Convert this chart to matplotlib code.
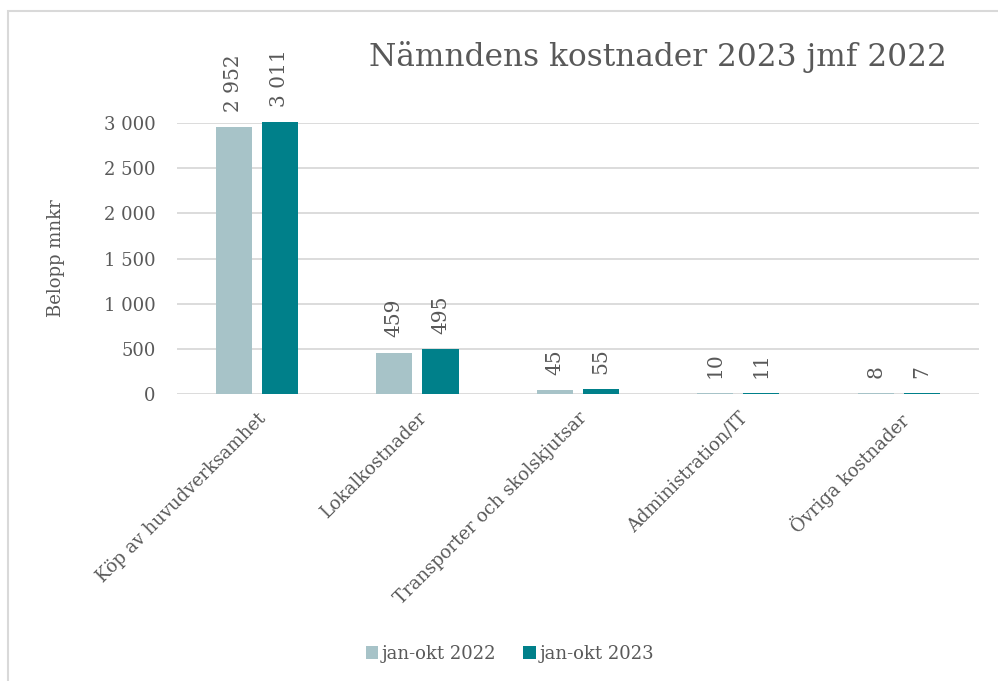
import matplotlib.pyplot as plt
from matplotlib.patches import Rectangle
import numpy as np

# data
kategorier = ['Köp av huvudverksamhet', 'Lokalkostnader', 'Transporter och skolskjutsar',
              'Administration/IT', 'Övriga kostnader']
jan_okt_2022 = [2952, 459, 45, 10, 8]
jan_okt_2023 = [3011, 495, 55, 11, 7]
serier = ['jan-okt 2022', 'jan-okt 2023']

ljus = '#a7c3c8'
teal = '#00808a'
grå_text = '#595959'
grid_färg = '#d9d9d9'

plt.rcParams['font.family'] = ['DejaVu Serif']

def tusental(v):
    return f'{int(v):,}'.replace(',', ' ')

fig = plt.figure(figsize=(9.98, 6.81), dpi=100)
ax = fig.add_axes([0.177, 0.4214, 0.804, 0.398])

x = np.arange(len(kategorier))
bredd = 0.225
b1 = ax.bar(x - 0.144, jan_okt_2022, bredd, color=ljus, label=serier[0], clip_on=False, zorder=3)
b2 = ax.bar(x + 0.144, jan_okt_2023, bredd, color=teal, label=serier[1], clip_on=False, zorder=3)

# dataetiketter ovanför staplarna
for staplar, värden in [(b1, jan_okt_2022), (b2, jan_okt_2023)]:
    for s, v in zip(staplar, värden):
        ax.annotate(tusental(v), (s.get_x() + s.get_width() / 2, s.get_height()),
                    xytext=(0, 11), textcoords='offset points', rotation=90,
                    ha='center', va='bottom', fontsize=14.5, color=grå_text,
                    annotation_clip=False)

ax.set_xlim(-0.5, len(kategorier) - 0.5)
ax.set_ylim(0, 3000)
ax.set_yticks(range(0, 3001, 500))
ax.set_yticklabels([tusental(t) for t in range(0, 3001, 500)], fontsize=13, color=grå_text)
ax.set_xticks(x)
ax.set_xticklabels(kategorier, rotation=45, ha='right', rotation_mode='anchor',
                   fontsize=13, color=grå_text)
ax.tick_params(length=0, axis='both')
ax.tick_params(axis='y', pad=15)
ax.tick_params(axis='x', pad=11)
for sp in ax.spines.values():
    sp.set_visible(False)
ax.yaxis.grid(True, color=grid_färg, linewidth=1.3, zorder=0)
ax.set_axisbelow(True)
ax.set_ylabel('Belopp mnkr', fontsize=13, color=grå_text, labelpad=28)

fig.text(0.659, 0.916, 'Nämndens kostnader 2023 jmf 2022', fontsize=22.5,
         color=grå_text, ha='center', va='center')

fig.legend(loc='lower center', bbox_to_anchor=(0.511, 0.003), ncol=2, frameon=False,
           fontsize=13, handlelength=0.7, handleheight=0.7, handletextpad=0.2,
           columnspacing=1.5, labelcolor=grå_text)

# ram runt diagrammet
fig.patches.append(Rectangle((8 / 998, -0.05), 1.1, 1 - 11 / 681 + 0.05,
                             transform=fig.transFigure, fill=False,
                             edgecolor=grid_färg, linewidth=1.5))

fig.savefig('out.png', dpi=100)
